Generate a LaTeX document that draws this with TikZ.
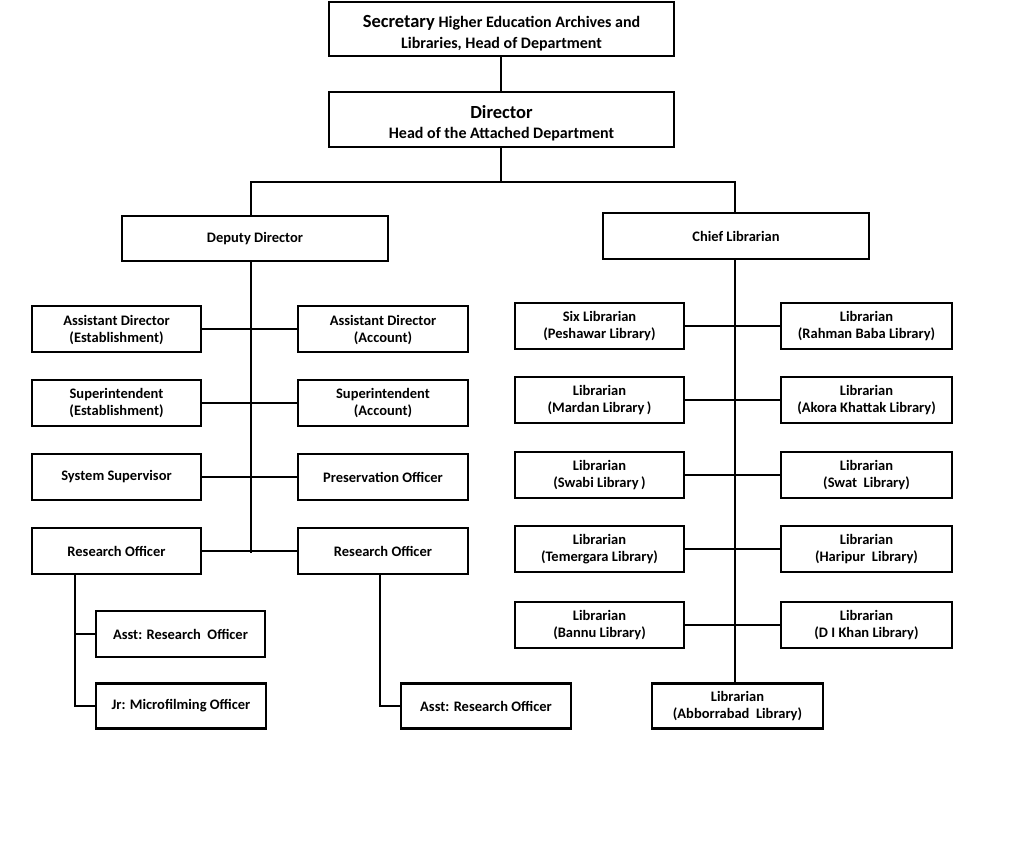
\documentclass[tikz,border=0pt]{standalone}
\usepackage{fontspec}
\setmainfont{Carlito}
\begin{document}
\begin{tikzpicture}[x=1pt,y=-1pt,
  box/.style={draw=black,line width=2.6pt,fill=white,align=center,inner sep=0pt,
    font=\bfseries\fontsize{14.5}{16.5}\selectfont},
  wa/.style={box,minimum width=169pt,minimum height=46pt},
  wl/.style={box,minimum width=170pt,minimum height=46pt},
  conn/.style={line width=2pt,line cap=rect}]
\useasboundingbox (0,0) rectangle (1022,856);
\fill[white] (0,0) rectangle (1022,856);
\coordinate (bx1) at (251,182);
\coordinate (bx2) at (735,182);
\coordinate (bm) at (501,182);
\coordinate (ve) at (75,0);
\coordinate (vr) at (380,0);
\coordinate (dend) at (251,552);

\node[box,minimum width=345pt,minimum height=54pt,font=\bfseries\fontsize{16}{21}\selectfont] (sec) at (501.5,29)
 {\rule{0pt}{20pt}{\fontsize{18.5}{21}\selectfont Secretary} Higher Education Archives and\\
  Libraries, Head of Department};
\node[box,minimum width=345pt,minimum height=55pt,font=\bfseries\fontsize{16}{19.5}\selectfont] (dir) at (501.5,119.5)
 {\rule{0pt}{21pt}{\fontsize{18.5}{19.5}\selectfont Director}\\Head of the Attached Department};
\node[box,minimum width=266pt,minimum height=45pt] (dep) at (255,238.5) {Deputy Director};
\node[box,minimum width=266pt,minimum height=46pt] (chief) at (736,236) {Chief Librarian};

\node[wa] (ade) at (116.5,329) {\rule{0pt}{12pt}Assistant Director\\(Establishment)};
\node[wl] (ada) at (383,329) {\rule{0pt}{12pt}Assistant Director\\(Account)};
\node[wa] (sue) at (116.5,403) {Superintendent\\(Establishment)};
\node[wl] (sua) at (383,403) {Superintendent\\(Account)};
\node[wa] (sys) at (116.5,477) {System Supervisor};
\node[wl] (pres) at (383,477) {Preservation Officer};
\node[wa] (rol) at (116.5,551) {Research Officer};
\node[wl] (ror) at (383,551) {Research Officer};
\node[wa] (arol) at (180.5,634) {Asst: Research\ \ Officer};
\node[wl,minimum height=45pt] (jr) at (181,706) {Jr: Microfilming Officer};
\node[wl,minimum height=45pt] (aror) at (486,706) {Asst: Research Officer};

\node[wa] (l1) at (599.5,326) {Six Librarian\\(Peshawar Library)};
\node[box,minimum width=171pt,minimum height=46pt] (r1) at (866.5,326) {Librarian\\(Rahman Baba Library)};
\node[wa] (l2) at (599.5,400) {Librarian\\(Mardan Library\,)};
\node[box,minimum width=171pt,minimum height=46pt] (r2) at (866.5,400) {Librarian\\(Akora Khattak Library)};
\node[wa] (l3) at (599.5,475) {Librarian\\(Swabi Library\,)};
\node[box,minimum width=171pt,minimum height=46pt] (r3) at (866.5,475) {Librarian\\(Swat\ \ Library)};
\node[wa] (l4) at (599.5,549) {Librarian\\(Temergara Library)};
\node[box,minimum width=171pt,minimum height=46pt] (r4) at (866.5,549) {Librarian\\(Haripur\ \ Library)};
\node[wa] (l5) at (599.5,625) {Librarian\\(Bannu Library)};
\node[box,minimum width=171pt,minimum height=46pt] (r5) at (866.5,625) {Librarian\\(D I Khan Library)};
\node[box,minimum width=171pt,minimum height=45pt] (abb) at (737.5,706) {Librarian\\(Abborrabad\ \ Library)};

\draw[conn] (sec.south -| bm) -- (dir.north -| bm);
\draw[conn] (dir.south -| bm) -- (bm);
\draw[conn] (dep.north -| bx1) -- (bx1) -- (bx2) -- (chief.north -| bx2);
\draw[conn] (dep.south -| bx1) -- (dend);
\draw[conn] (ade.east) -- (ada.west);
\draw[conn] (sue.east) -- (sua.west);
\draw[conn] (sys.east) -- (pres.west);
\draw[conn] (rol.east) -- (ror.west);
\draw[conn] (chief.south -| bx2) -- (abb.north -| bx2);
\draw[conn] (l1.east) -- (r1.west);
\draw[conn] (l2.east) -- (r2.west);
\draw[conn] (l3.east) -- (r3.west);
\draw[conn] (l4.east) -- (r4.west);
\draw[conn] (l5.east) -- (r5.west);
\draw[conn] (rol.south -| ve) |- (jr.west);
\draw[conn] (arol.west -| ve) -- (arol.west);
\draw[conn] (ror.south -| vr) |- (aror.west);
\end{tikzpicture}
\end{document}
